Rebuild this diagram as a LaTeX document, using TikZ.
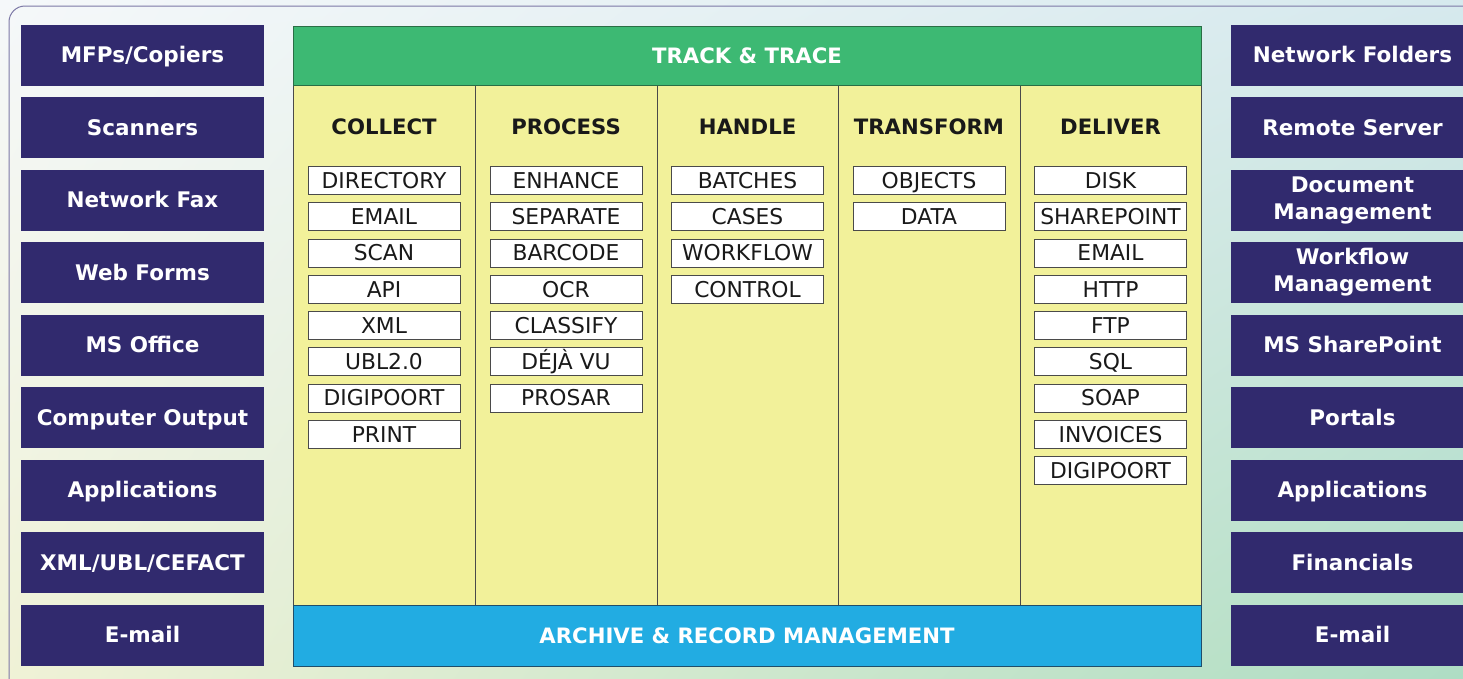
\documentclass[tikz,border=0pt]{standalone}
\usepackage{fontspec}
\setmainfont{DejaVu Sans}
\usetikzlibrary{shadings}
\definecolor{navy}{HTML}{312A6E}
\definecolor{greenc}{HTML}{3DB973}
\definecolor{greenb}{HTML}{2A6E45}
\definecolor{bluec}{HTML}{22ACE2}
\definecolor{blueb}{HTML}{1F4E6A}
\definecolor{yelc}{HTML}{F2F19A}
\definecolor{edgec}{HTML}{4A4A4A}
\definecolor{framec}{HTML}{7C78A6}
\definecolor{bgUL}{HTML}{F5F8FA}
\definecolor{bgUR}{HTML}{D6E9EE}
\definecolor{bgLL}{HTML}{F0F2D6}
\definecolor{bgLR}{HTML}{AEDDC4}
\tikzset{
  srcbase/.style={fill=navy, minimum width=243pt, minimum height=61pt, inner sep=0pt,
    text=white, align=center, font=\bfseries\fontsize{21.5}{27}\selectfont},
  srcbox/.style={srcbase, text height=15.7pt, text depth=0pt},
  bandbox/.style={minimum width=908pt, inner sep=0pt, text=white,
    font=\bfseries\fontsize{21.2}{24}\selectfont, line width=1pt,
    text height=15.5pt, text depth=0pt},
  headtext/.style={inner sep=0pt, text=black!90, font=\bfseries\fontsize{21.2}{24}\selectfont,
    text height=15.5pt, text depth=0pt},
  cellbox/.style={draw=edgec, fill=white, line width=0.9pt, minimum width=152pt,
    minimum height=28pt, inner sep=0pt, text=black!90, font=\fontsize{21.8}{24}\selectfont,
    text height=15.9pt, text depth=0pt}
}
\begin{document}
\begin{tikzpicture}[x=1pt,y=-1pt]
\useasboundingbox (0,0) rectangle (1463,678);
\shade[upper left=bgUL, upper right=bgUR, lower left=bgLL, lower right=bgLR] (0,0) rectangle (1463,678);
\draw[framec, line width=1pt, rounded corners=16pt] (9,6) rectangle (1495,700);

% left sources
\foreach \t [count=\i] in {MFPs/Copiers,Scanners,Network Fax,Web Forms,MS Office,Computer Output,Applications,XML/UBL/CEFACT,E-mail}
  \node[srcbox] (L\i) at (142.5,{55+72.5*(\i-1)}) {\t};

% right destinations
\node[srcbox] (R1) at (1352.5,55) {Network Folders};
\node[srcbox] (R2) at (1352.5,127.5) {Remote Server};
\node[srcbase] (R3) at (1352.5,200) {Document\\Management};
\node[srcbase] (R4) at (1352.5,272.5) {Workflow\\Management};
\foreach \t [count=\i from 5] in {MS SharePoint,Portals,Applications,Financials,E-mail}
  \node[srcbox] (R\i) at (1352.5,{55+72.5*(\i-1)}) {\t};

% central body
\node[draw=edgec, fill=yelc, line width=1pt, minimum width=908pt, minimum height=520pt, inner sep=0pt] (body) at (747,345) {};
\foreach \x [count=\i] in {475,657,838,1020}
  \draw[edgec, line width=1pt] (\x,85) -- (\x,605);
\node[bandbox, draw=greenb, fill=greenc, minimum height=59pt] (track) at (747,55.5) {TRACK \& TRACE};
\node[bandbox, draw=blueb, fill=bluec, minimum height=61pt] (archive) at (747,635.5) {ARCHIVE \& RECORD MANAGEMENT};

% column headers
\node[headtext] (h1) at (384,127) {COLLECT};
\node[headtext] (h2) at (566,127) {PROCESS};
\node[headtext] (h3) at (747.5,127) {HANDLE};
\node[headtext] (h4) at (929,127) {TRANSFORM};
\node[headtext] (h5) at (1110.5,127) {DELIVER};

\foreach \t [count=\i] in {DIRECTORY,EMAIL,SCAN,API,XML,UBL2.0,DIGIPOORT,PRINT}
  \node[cellbox] (a\i) at (384,{180.5+36.25*(\i-1)}) {\t};
\foreach \t [count=\i] in {ENHANCE,SEPARATE,BARCODE,OCR,CLASSIFY,DÉJÀ VU,PROSAR}
  \node[cellbox] (b\i) at (566,{180.5+36.25*(\i-1)}) {\t};
\foreach \t [count=\i] in {BATCHES,CASES,WORKFLOW,CONTROL}
  \node[cellbox] (c\i) at (747.5,{180.5+36.25*(\i-1)}) {\t};
\foreach \t [count=\i] in {OBJECTS,DATA}
  \node[cellbox] (d\i) at (929,{180.5+36.25*(\i-1)}) {\t};
\foreach \t [count=\i] in {DISK,SHAREPOINT,EMAIL,HTTP,FTP,SQL,SOAP,INVOICES,DIGIPOORT}
  \node[cellbox] (e\i) at (1110.5,{180.5+36.25*(\i-1)}) {\t};
\end{tikzpicture}
\end{document}
